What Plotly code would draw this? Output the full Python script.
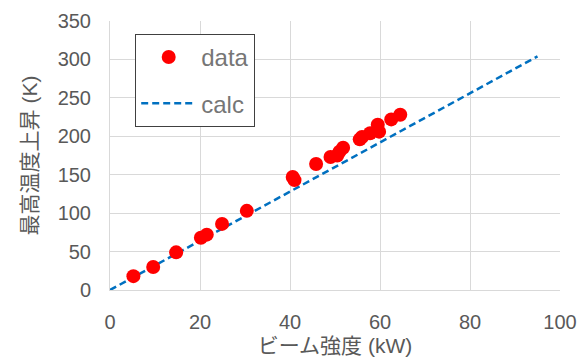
import plotly.graph_objects as go

beam_kw = [5.2, 9.6, 14.7, 20.2, 21.5, 24.9, 30.4, 40.6, 41.0, 45.8, 49.0, 50.5, 51.0, 51.8, 55.5, 56.0, 57.8, 59.5, 59.8, 62.5, 64.5]
temp_rise = [18, 30, 49, 68, 72, 86, 103, 147, 143, 164, 173, 175, 180, 185, 196, 199, 204, 215, 206, 222, 228]
calc_x = [0, 95]
calc_y = [0, 304]

grey = "#595959"
font = "Liberation Sans, Noto Sans CJK JP, sans-serif"

fig = go.Figure()
fig.add_trace(go.Scatter(x=calc_x, y=calc_y, mode="lines", name="calc",
                         legendgroup="b", legendrank=2,
                         line=dict(color="#0070C0", width=2.5, dash="7px,4px")))
fig.add_trace(go.Scatter(x=beam_kw, y=temp_rise, mode="markers", name="data",
                         legendgroup="a", legendrank=1,
                         marker=dict(color="#FF0000", size=14)))

fig.update_layout(
    width=581, height=364,
    margin=dict(l=110, r=21, t=21, b=74, autoexpand=False),
    plot_bgcolor="white", paper_bgcolor="white",
    font=dict(family=font, color=grey, size=20),
    showlegend=True,
    legend=dict(x=0.056, y=0.952, xanchor="left", yanchor="top",
                bordercolor="#404040", borderwidth=1, bgcolor="white",
                font=dict(size=24, color="#767676"), traceorder="grouped",
                tracegroupgap=12, itemwidth=55),
    xaxis=dict(range=[0, 100], dtick=20, showgrid=True, gridcolor="#d9d9d9",
               gridwidth=1, zeroline=False, showline=True, linecolor="#d9d9d9",
               ticks="", tickfont=dict(size=20, color=grey), ticklabelstandoff=14,
               automargin=False,
               title=dict(text="ビーム強度 (kW)", font=dict(size=21, color=grey), standoff=6)),
    yaxis=dict(range=[0, 350], dtick=50, showgrid=True, gridcolor="#d9d9d9",
               gridwidth=1, zeroline=False, showline=True, linecolor="#d9d9d9",
               ticks="", tickfont=dict(size=20, color=grey), ticklabelstandoff=14,
               automargin=False,
               title=dict(text="最高温度上昇 (K)", font=dict(size=21, color=grey), standoff=14)),
)

fig.write_html("out.html")
